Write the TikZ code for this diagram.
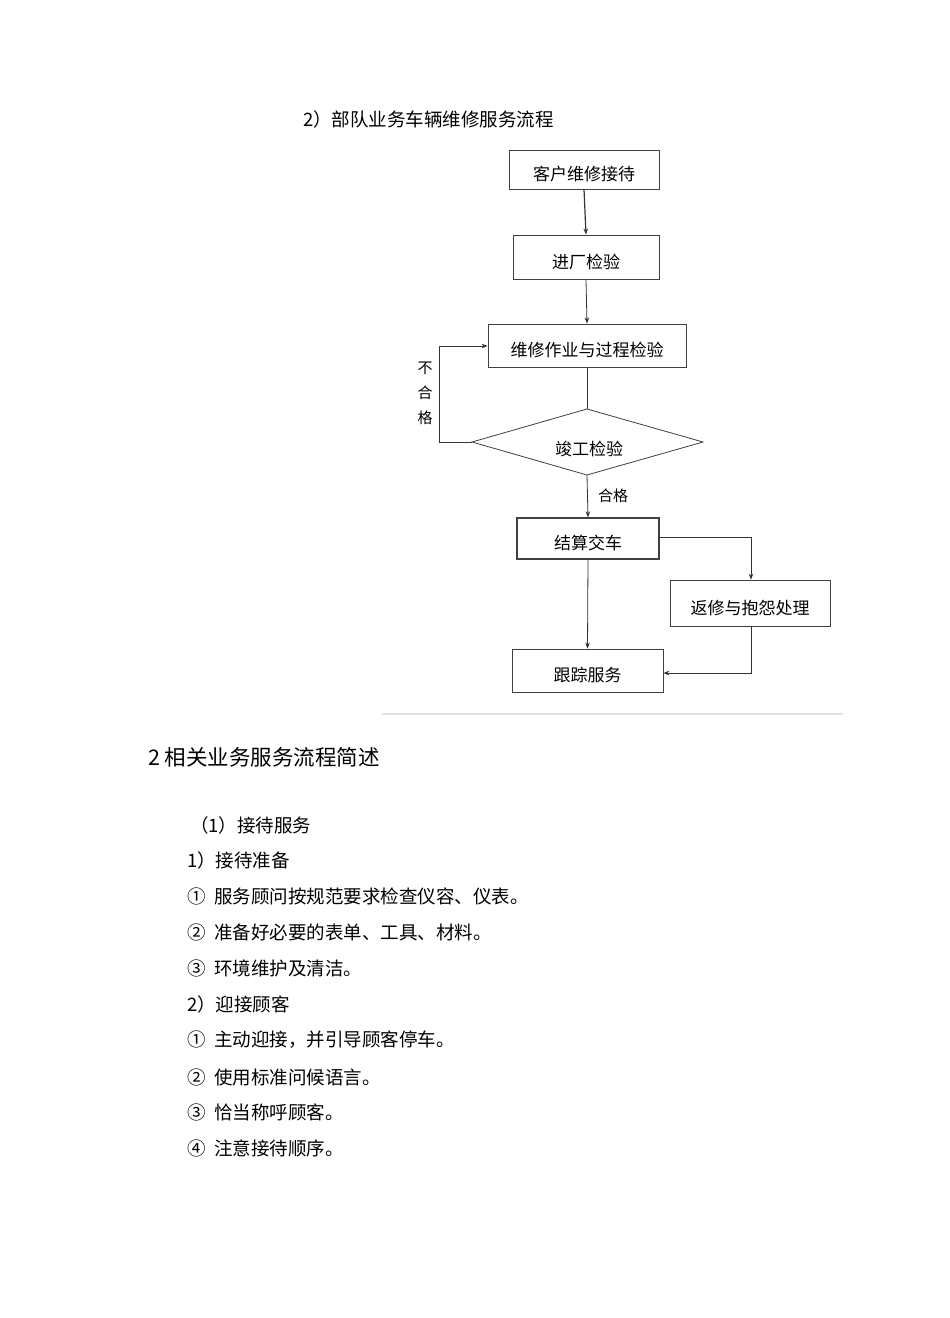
\documentclass[tikz,border=0pt]{standalone}
\usepackage{fontspec}
\setmainfont{Noto Sans CJK SC}
\usetikzlibrary{arrows.meta}
\newcommand{\circnum}[1]{\makebox[27pt][l]{#1}}
\begin{document}
\begin{tikzpicture}[x=1pt,y=-1pt,
  box/.style={draw=black!75, line width=0.8pt, inner sep=0pt, text height=22pt, text depth=0pt, font=\fontsize{17}{18}\selectfont},
  arr/.style={-{Stealth[length=6pt,width=4.5pt]}, line width=0.8pt, draw=black!80},
  ln/.style={line width=0.8pt, draw=black!80},
  txt/.style={anchor=west, inner sep=0pt, font=\fontsize{18.5}{20}\selectfont},
  lbl/.style={inner sep=0pt, font=\fontsize{15}{25}\selectfont}]
\fill[white] (0,0) rectangle (950,1318);
\useasboundingbox (0,0) rectangle (950,1318);

% title
\node[txt] (title) at (303,119) {2）部队业务车辆维修服务流程};

% flowchart boxes
\node[box, minimum width=150pt, minimum height=39pt] (b1) at (584,169.5) {客户维修接待};
\node[box, minimum width=146pt, minimum height=44pt] (b2) at (586,257) {进厂检验};
\node[box, minimum width=198pt, minimum height=43pt] (b3) at (587,345.5) {维修作业与过程检验};
% diamond
\coordinate (dt) at (587,409);
\coordinate (dl) at (472,442);
\coordinate (dr) at (703,442);
\coordinate (db) at (587,475);
\draw[line width=0.8pt, draw=black!75] (dt) -- (dr) -- (db) -- (dl) -- cycle;
\node[inner sep=0pt, font=\fontsize{17}{18}\selectfont] (d) at (589,449) {竣工检验};
\node[box, line width=1.3pt, minimum width=142pt, minimum height=41pt] (b4) at (588,538.5) {结算交车};
\node[box, minimum width=160pt, minimum height=46pt] (b5) at (750,603) {返修与抱怨处理};
\node[box, minimum width=151pt, minimum height=43pt] (b6) at (587.5,670.5) {跟踪服务};

% connectors
\draw[arr, line width=1.2pt] (b1.south) -- (b2.north);
\draw[arr] (b2.south) -- (b3.north);
\draw[ln] (b3.south) -- (dt);
\coordinate (fb1) at (439,442);
\coordinate (fb2) at (439,346);
\draw[arr] (dl) -- (fb1) -- (fb2) -- (b3.west |- fb2);
\node[lbl, align=center] (ng) at (425,393) {不\\合\\格};
\draw[arr] (db) -- (b4.north);
\node[lbl, anchor=west] (ok) at (598,496) {合格};
\coordinate (c1) at (751,537);
\draw[arr] (b4.east |- c1) -- (c1) -- (b5.north -| c1);
\draw[arr] (b4.south) -- (b6.north);
\coordinate (c2) at (751,673);
\draw[arr] (b5.south -| c2) -- (c2) -- (b6.east |- c2);

% separator
\draw[black!12, line width=1.5pt] (382,714) -- (843,714);

% text section
\node[txt, font=\fontsize{21.5}{24}\selectfont] (h) at (148,757) {2 相关业务服务流程简述};
\node[txt] (t1) at (190,825) {（1）接待服务};
\node[txt] (t2) at (187,860) {1）接待准备};
\node[txt] (t3) at (187,896) {\circnum{①}服务顾问按规范要求检查仪容、仪表。};
\node[txt] (t4) at (187,932) {\circnum{②}准备好必要的表单、工具、材料。};
\node[txt] (t5) at (187,968) {\circnum{③}环境维护及清洁。};
\node[txt] (t6) at (187,1004) {2）迎接顾客};
\node[txt] (t7) at (187,1040) {\circnum{①}主动迎接，并引导顾客停车。};
\node[txt] (t8) at (187,1077) {\circnum{②}使用标准问候语言。};
\node[txt] (t9) at (187,1112) {\circnum{③}恰当称呼顾客。};
\node[txt] (t10) at (187,1148) {\circnum{④}注意接待顺序。};
\end{tikzpicture}
\end{document}
